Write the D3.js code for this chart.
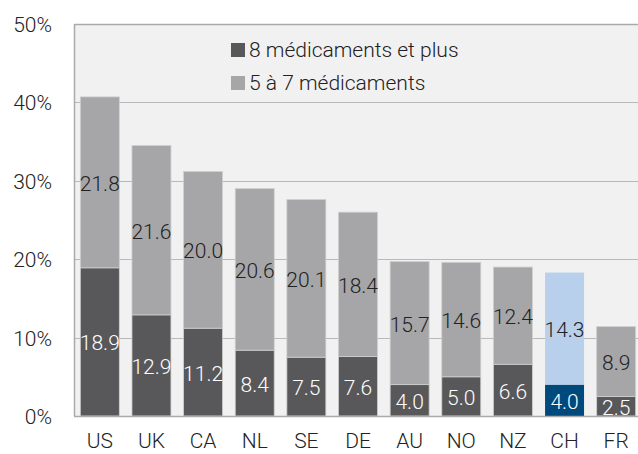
<!DOCTYPE html>
<html>
<head>
<meta charset="utf-8">
<script src="https://cdn.jsdelivr.net/npm/d3@7"></script>
<style>
  html, body { margin: 0; padding: 0; background: #ffffff; }
  svg { display: block; font-family: Roboto, "Noto Sans", sans-serif; font-weight: 300; }
</style>
</head>
<body>
<svg id="chart" width="638" height="454"></svg>
<script>
// Countries, in display order
const countries = ["US", "UK", "CA", "NL", "SE", "DE", "AU", "NO", "NZ", "CH", "FR"];
// Share of people taking 8 or more medicines (%)
const eightPlus = [18.9, 12.9, 11.2, 8.4, 7.5, 7.6, 4.0, 5.0, 6.6, 4.0, 2.5];
// Share of people taking 5 to 7 medicines (%)
const fiveToSeven = [21.8, 21.6, 20.0, 20.6, 20.1, 18.4, 15.7, 14.6, 12.4, 14.3, 8.9];
// Axis ticks (%)
const yTicks = [0, 10, 20, 30, 40, 50];
// Series names
const seriesNames = ["8 médicaments et plus", "5 à 7 médicaments"];
// Highlighted country
const highlight = "CH";

const svg = d3.select("#chart");
const plot = { left: 74, top: 24, right: 642, bottom: 416 };
const FONT = 21;

const x = d3.scaleBand()
  .domain(countries)
  .range([plot.left, plot.right])
  .paddingInner(0.245)
  .paddingOuter(0.1225);

const y = d3.scaleLinear()
  .domain([0, 50])
  .range([plot.bottom, plot.top]);

const colors = {
  dark: "#58585a", light: "#a6a6a8",
  darkHi: "#00497c", lightHi: "#b8d0ec"
};

// Plot background
svg.append("rect")
  .attr("x", plot.left).attr("y", plot.top)
  .attr("width", plot.right - plot.left).attr("height", plot.bottom - plot.top)
  .attr("fill", "#f1f1f1");

// Horizontal grid lines
svg.append("g")
  .selectAll("line")
  .data(yTicks.filter(t => t > 0 && t < 50))
  .join("line")
  .attr("x1", plot.left).attr("x2", plot.right)
  .attr("y1", d => Math.round(y(d)) + 0.5).attr("y2", d => Math.round(y(d)) + 0.5)
  .attr("stroke", "#b9b9b9").attr("stroke-width", 1.2);

// Stacked data
const rows = countries.map((c, i) => ({ country: c, eight: eightPlus[i], five: fiveToSeven[i] }));
const stack = d3.stack().keys(["eight", "five"]);
const series = stack(rows);

const barG = svg.append("g");
series.forEach((s, si) => {
  barG.append("g")
    .selectAll("rect")
    .data(s)
    .join("rect")
    .attr("x", d => x(d.data.country))
    .attr("width", x.bandwidth())
    .attr("y", d => y(d[1]))
    .attr("height", d => y(d[0]) - y(d[1]))
    .attr("fill", d => d.data.country === highlight
      ? (si === 0 ? colors.darkHi : colors.lightHi)
      : (si === 0 ? colors.dark : colors.light))
    .attr("stroke", d => d.data.country === highlight ? "none" : "#cfcfcf")
    .attr("stroke-width", 0.8);
});

// Value labels in each segment
series.forEach((s, si) => {
  barG.append("g")
    .selectAll("text")
    .data(s)
    .join("text")
    .attr("x", d => x(d.data.country) + x.bandwidth() / 2)
    .attr("y", d => (y(d[0]) + y(d[1])) / 2 + 1.5)
    .attr("text-anchor", "middle")
    .attr("dominant-baseline", "central")
    .attr("font-size", FONT)
    .attr("fill", si === 0 ? "#ffffff" : "#222222")
    .text(d => d3.format(".1f")(d[1] - d[0]));
});

// Frame: top and left border, bottom axis line
svg.append("line")
  .attr("x1", plot.left).attr("x2", plot.right)
  .attr("y1", plot.top + 0.5).attr("y2", plot.top + 0.5)
  .attr("stroke", "#aaaaaa").attr("stroke-width", 1.5);
svg.append("line")
  .attr("x1", plot.left + 0.5).attr("x2", plot.left + 0.5)
  .attr("y1", plot.top).attr("y2", plot.bottom)
  .attr("stroke", "#aaaaaa").attr("stroke-width", 1.5);
svg.append("line")
  .attr("x1", plot.left).attr("x2", plot.right)
  .attr("y1", plot.bottom + 0.5).attr("y2", plot.bottom + 0.5)
  .attr("stroke", "#aaaaaa").attr("stroke-width", 1.5);

// Y axis
const yAxis = d3.axisLeft(y).tickValues(yTicks).tickSize(0).tickPadding(0)
  .tickFormat(d => d + "%");
svg.append("g")
  .attr("transform", `translate(${52},0)`)
  .call(yAxis)
  .call(g => g.select(".domain").remove())
  .call(g => g.selectAll("text")
    .attr("font-family", "Roboto, sans-serif")
    .attr("font-weight", 300)
    .attr("font-size", FONT)
    .attr("fill", "#222222")
    .attr("dy", "0.36em"));

// X axis (labels sit on a baseline just above the bottom edge)
const xAxis = d3.axisBottom(x).tickSize(0).tickPadding(0);
svg.append("g")
  .attr("transform", `translate(0,${448})`)
  .call(xAxis)
  .call(g => g.select(".domain").remove())
  .call(g => g.selectAll("text")
    .attr("font-family", "Roboto, sans-serif")
    .attr("font-weight", 300)
    .attr("font-size", FONT)
    .attr("fill", "#222222")
    .attr("y", 0)
    .attr("dy", 0));

// Legend
const legend = svg.append("g").attr("transform", "translate(231,0)");
const legendColors = [colors.dark, colors.light];
const legendY = [50, 83];
seriesNames.forEach((name, i) => {
  legend.append("rect")
    .attr("x", 0).attr("y", legendY[i] - 7)
    .attr("width", 14).attr("height", 14)
    .attr("fill", legendColors[i]);
  legend.append("text")
    .attr("x", 18).attr("y", legendY[i])
    .attr("dominant-baseline", "central")
    .attr("font-size", FONT)
    .attr("fill", "#222222")
    .text(name);
});
</script>
</body>
</html>
